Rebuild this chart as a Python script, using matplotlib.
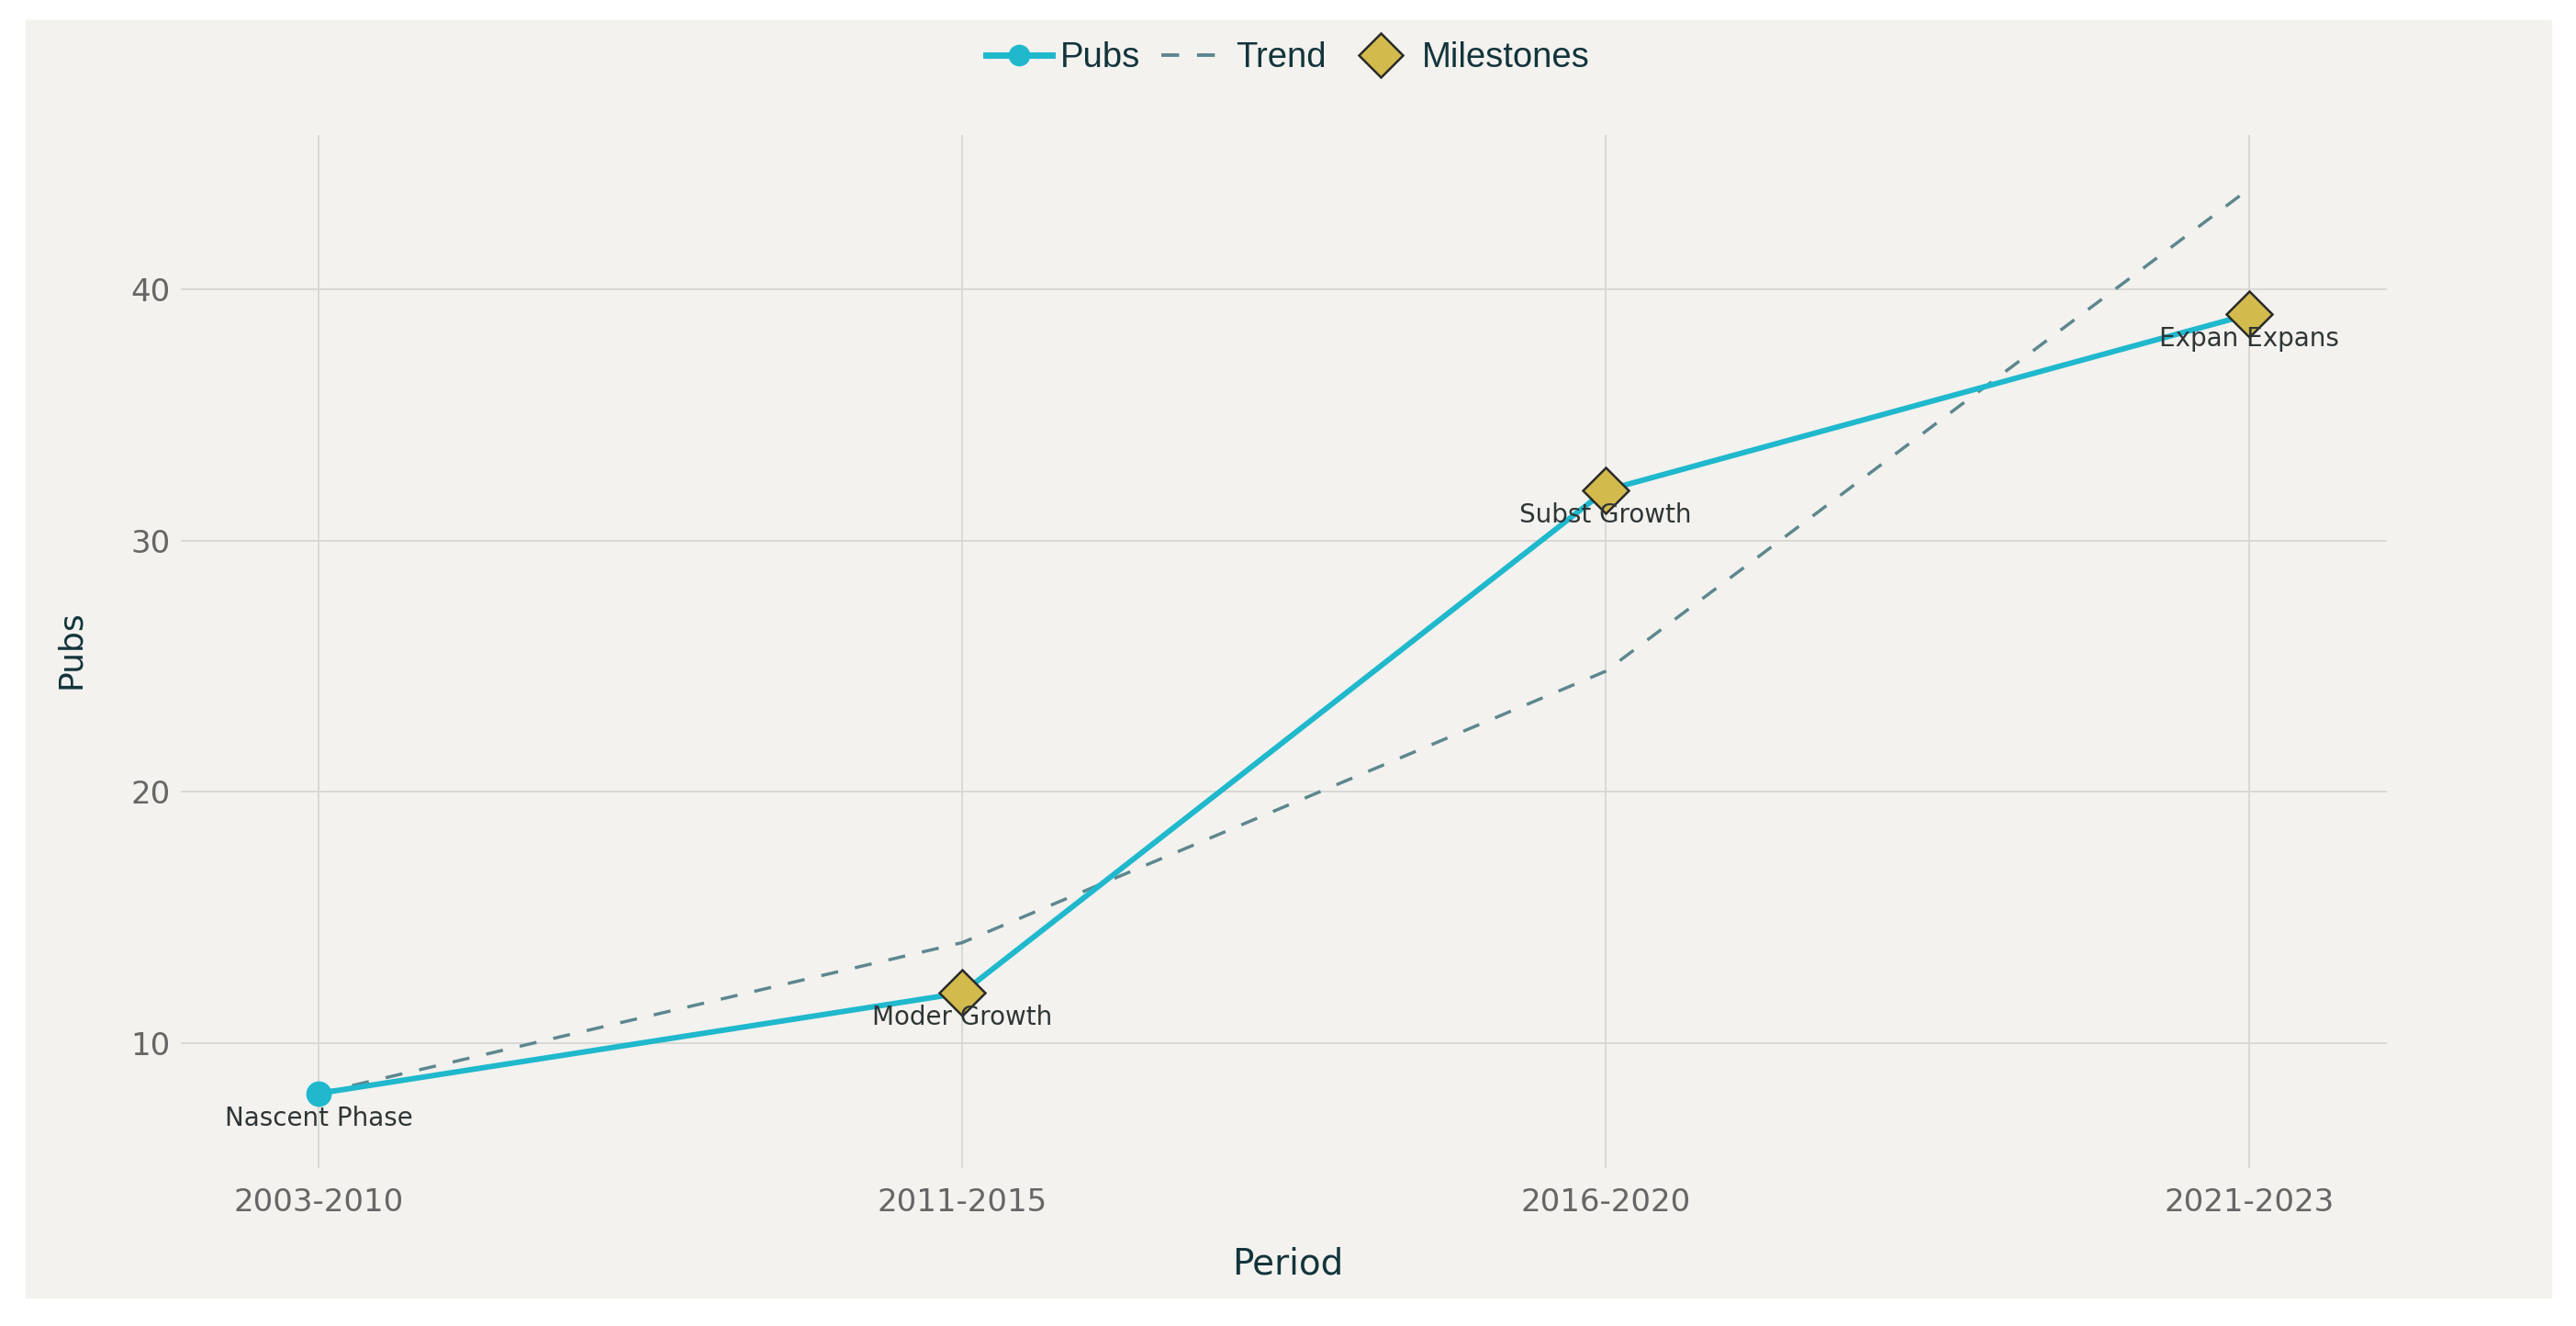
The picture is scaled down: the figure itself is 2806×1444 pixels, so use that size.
import matplotlib.pyplot as plt
from matplotlib.patches import Rectangle
from matplotlib.lines import Line2D

# data
periods = ["2003-2010", "2011-2015", "2016-2020", "2021-2023"]
pubs = [8, 12, 32, 39]
trend = [8, 14, 24.8, 44]
milestone_idx = [1, 2, 3]
milestone_vals = [12, 32, 39]
phase_labels = ["Nascent Phase", "Moder Growth", "Subst Growth", "Expan Expans"]

BG = '#F3F2EE'
TEAL = '#1FB8CD'
TREND = '#5D878F'
GOLD = '#D2BA4C'
DARK = '#13343B'

W, H = 2806, 1444
fig = plt.figure(figsize=(W / 100, H / 100), dpi=100, facecolor='white')
fig.patches.append(Rectangle((28 / W, 1 - 1413 / H), (2779 - 28) / W, (1413 - 22) / H,
                             transform=fig.transFigure, color=BG, zorder=-10))

ax = fig.add_axes([197 / W, 1 - 1272 / H, (2600 - 197) / W, (1272 - 147) / H])
ax.set_facecolor(BG)
x = list(range(len(periods)))

ax.plot(x, trend, linestyle=(0, (5.4, 5.4)), color=TREND, lw=2.5, zorder=3)
ax.plot(x, pubs, color=TEAL, lw=4.3, marker='o', ms=19, zorder=4)
ax.plot(milestone_idx, milestone_vals, linestyle='none', marker='D', ms=25,
        markerfacecolor=GOLD, markeredgecolor='#2a2a2a', markeredgewidth=1.8, zorder=5)

for i, lab in enumerate(phase_labels):
    ax.annotate(lab, (x[i], pubs[i]), xytext=(0, -19.5), textcoords='offset points',
                ha='center', va='center', fontsize=20, color='#2f3535', zorder=6)

ax.set_xlim(-0.214, 3.214)
ax.set_ylim(5.03, 46.14)
ax.set_xticks(x)
ax.set_xticklabels(periods)
ax.set_yticks([10, 20, 30, 40])
ax.tick_params(axis='both', length=0, labelsize=24.5, colors='#666666')
ax.tick_params(axis='x', pad=15)
ax.tick_params(axis='y', pad=8)
ax.grid(True, color='#D8D8D5', lw=1.4)
ax.set_axisbelow(True)
for s in ax.spines.values():
    s.set_visible(False)

fig.text(1403 / W, 1 - 1377 / H, 'Period', ha='center', va='center', fontsize=28, color=DARK)
fig.text(77 / W, 1 - 707 / H, 'Pubs', ha='center', va='center', rotation=90, fontsize=26, color=DARK)

handles = [
    Line2D([], [], color=TEAL, lw=5, marker='o', ms=16),
    Line2D([], [], color=TREND, lw=2.8, linestyle=(0, (5, 5))),
    Line2D([], [], linestyle='none', marker='D', ms=24, markerfacecolor=GOLD,
           markeredgecolor='#2a2a2a', markeredgewidth=1.8),
]
leg = fig.legend(handles, ['Pubs', 'Trend', 'Milestones'], loc='center',
                 bbox_to_anchor=(0.5, 1 - 63 / H), ncol=3, frameon=False,
                 prop={'family': 'Liberation Sans', 'size': 27.5}, handlelength=1.87,
                 handletextpad=0.25, columnspacing=0.6, labelcolor=DARK)

fig.savefig('out.png', dpi=100, facecolor='white')
